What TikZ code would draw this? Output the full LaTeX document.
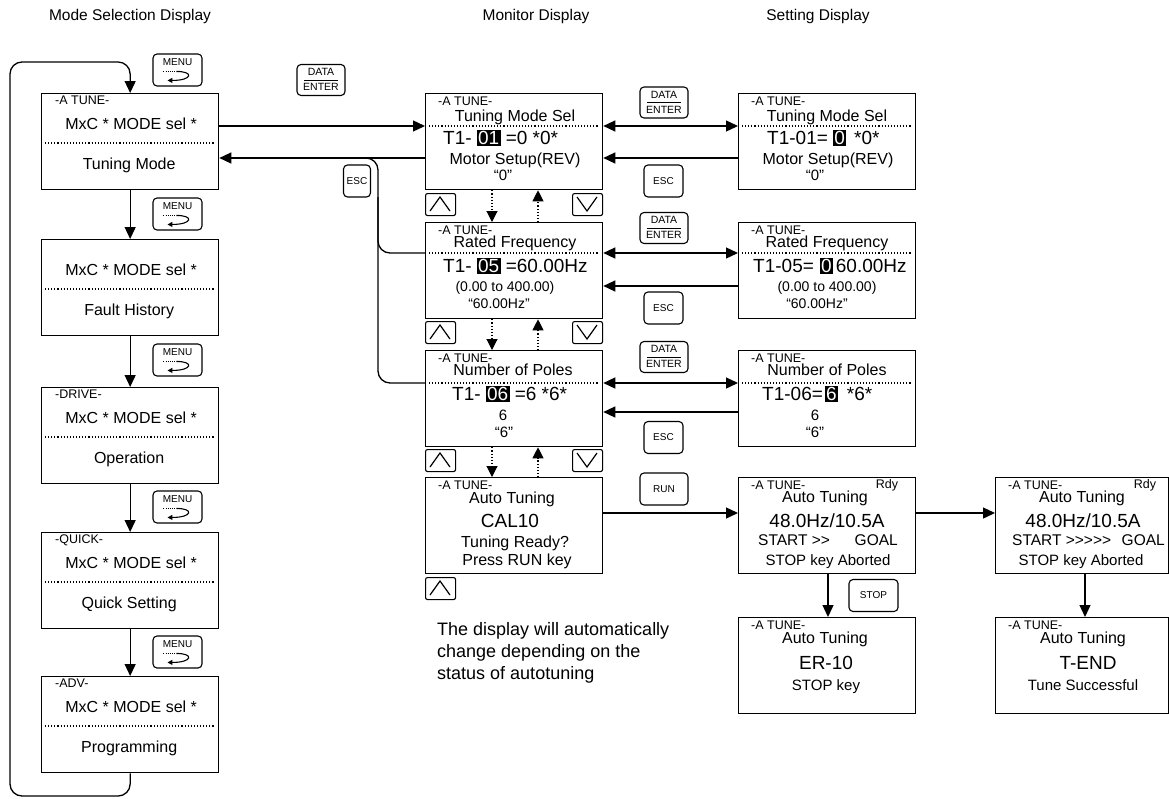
\documentclass[tikz,border=0pt]{standalone}
\usepackage{fontspec}
\setmainfont{Liberation Sans}
\usetikzlibrary{arrows.meta,calc}
\newcommand\fs[1]{\fontsize{#1}{#1}\selectfont}
\newcommand\hl[1]{{\setlength{\fboxsep}{1.2pt}\colorbox{black}{\textcolor{white}{#1}}}}
\tikzset{
 box/.style={draw, line width=1.3pt, minimum width=177pt, minimum height=96pt, anchor=north west, inner sep=0pt},
 key/.style={draw, line width=1.1pt, rounded corners=4pt, inner sep=0pt},
 txt/.style={inner sep=0pt, anchor=mid},
 sep/.style={line width=1.1pt, dash pattern=on 1.1pt off 2pt},
 arr/.style={line width=1.3pt, -{Triangle[length=12pt,width=11pt]}},
 darr/.style={line width=1.3pt, {Triangle[length=12pt,width=11pt]}-{Triangle[length=12pt,width=11pt]}},
 dotarr/.style={line width=1.1pt, dash pattern=on 1.1pt off 2pt, -{Triangle[length=11pt,width=11pt]}},
 ln/.style={line width=1.3pt},
}
\newcommand\modebox[3]{%
 \node[box] (#1) at (41,#2) {};
 \draw[sep] ($(#1.north west)+(4,50)$) -- ($(#1.north east)+(-4,50)$);
 \node[txt,font={\fs{16}}] (#1b) at ($(#1.north)+(1,34)$) {MxC * MODE sel *};
 \node[txt,font={\fs{16}}] (#1c) at ($(#1.north)+(-1,74)$) {#3};
}
\newcommand\dispbox[4]{% name, x, top, width
 \node[box, minimum width=#4pt] (#1) at (#2,#3) {};
 \node[txt,font={\fs{12.5}},anchor=mid west] (#1a) at ($(#1.north west)+(13,10)$) {-A TUNE-};
}
\newcommand\menukey[3]{%
 \node[key, minimum width=49pt, minimum height=32pt] (#1) at (#2,#3) {};
 \node[txt,font={\fs{10}}] (#1t) at ($(#1.north)+(0,9.5)$) {MENU};
 \draw[line width=.9pt, dash pattern=on .9pt off 1.3pt] ($(#1.north west)+(11,18)$) -- ($(#1.north west)+(24,18)$);
 \draw[line width=1.1pt, -{Triangle[length=5pt,width=5pt]}] ($(#1.north west)+(24,18)$) .. controls ($(#1.north west)+(42,18)$) and ($(#1.north west)+(40,27)$) .. ($(#1.north west)+(15,27)$);
}
\newcommand\dekey[3]{%
 \node[key, minimum width=48pt, minimum height=31pt] (#1) at (#2,#3) {};
 \node[txt,font={\fs{10.5}}] (#1a) at ($(#1.center)+(0,-7)$) {DATA};
 \draw[line width=.9pt] ($(#1.center)+(-17,0)$) -- ($(#1.center)+(17,0)$);
 \node[txt,font={\fs{10.5}}] (#1b) at ($(#1.center)+(0,8)$) {ENTER};
}
\newcommand\tkey[5]{%
 \node[key, minimum width=#4pt, minimum height=32pt, font={\fs{10}}] (#1) at (#2,#3) {#5};
}
\newcommand\upkey[3]{%
 \node[key, rounded corners=2pt, minimum width=30pt, minimum height=22pt, anchor=north west] (#1) at (#2,#3) {};
 \draw[line width=1.2pt] ($(#1.north west)+(5,18)$) -- ($(#1.north west)+(15,4)$) -- ($(#1.north west)+(25,18)$);
}
\newcommand\downkey[3]{%
 \node[key, rounded corners=2pt, minimum width=30pt, minimum height=22pt, anchor=north west] (#1) at (#2,#3) {};
 \draw[line width=1.2pt] ($(#1.north west)+(5,4)$) -- ($(#1.north west)+(15,18)$) -- ($(#1.north west)+(25,4)$);
}
\begin{document}
\begin{tikzpicture}[x=1pt,y=-1pt]
\useasboundingbox (0,0) rectangle (1169,798);
% headers
\node[txt,font={\fs{15.5}}] (h1) at (130,18) {Mode Selection Display};
\node[txt,font={\fs{15.5}}] (h2) at (536,18) {Monitor Display};
\node[txt,font={\fs{15.5}}] (h3) at (818,18) {Setting Display};

% mode selection column
\modebox{l1}{93}{Tuning Mode}
\modebox{l2}{239}{Fault History}
\modebox{l3}{387}{Operation}
\modebox{l4}{532}{Quick Setting}
\modebox{l5}{676}{Programming}
\node[txt,font={\fs{12.5}},anchor=mid west] (l1a) at ($(l1.north west)+(14,9)$) {-A TUNE-};
\node[txt,font={\fs{12.5}},anchor=mid west] (l3a) at ($(l3.north west)+(14,9)$) {-DRIVE-};
\node[txt,font={\fs{12.5}},anchor=mid west] (l4a) at ($(l4.north west)+(14,9)$) {-QUICK-};
\node[txt,font={\fs{12.5}},anchor=mid west] (l5a) at ($(l5.north west)+(14,9)$) {-ADV-};

\menukey{k0}{177.5}{70}
\menukey{k1}{177.5}{214}
\menukey{k2}{177.5}{360}
\menukey{k3}{177.5}{507}
\menukey{k4}{177.5}{652}

\draw[arr] (l1.south) -- (l2.north);
\draw[arr] (l2.south) -- (l3.north);
\draw[arr] (l3.south) -- (l4.north);
\draw[arr] (l4.south) -- (l5.north);
\coordinate (lb) at (10,796);
\coordinate (lt) at (10,62);
\draw[arr, rounded corners=12pt] (l5.south) |- (lb) -- (lt) -| (l1.north);

% monitor column
\dispbox{m1}{425}{93}{177}
\dispbox{m2}{425}{222}{177}
\dispbox{m3}{425}{350}{177}
\dispbox{m4}{425}{477}{177}
\draw[sep] ($(m1.north west)+(4,33)$) -- ($(m1.north east)+(-4,33)$);
\draw[sep] ($(m2.north west)+(4,31)$) -- ($(m2.north east)+(-4,31)$);
\draw[sep] ($(m3.north west)+(4,33)$) -- ($(m3.north east)+(-4,33)$);

\node[txt,font={\fs{16}}] (m1t) at (515,119) {Tuning Mode Sel};
\node[txt,font={\fs{19}},anchor=mid west] (m1v) at (443,142) {T1- \hl{01} =0 *0*};
\node[txt,font={\fs{16}}] (m1d) at (515,162) {Motor Setup(REV)};
\node[txt,font={\fs{15}}] (m1q) at (503,178) {“0”};

\node[txt,font={\fs{16}}] (m2t) at (515,245) {Rated Frequency};
\node[txt,font={\fs{19}},anchor=mid west] (m2v) at (443,270) {T1- \hl{05} =60.00Hz};
\node[txt,font={\fs{14}}] (m2d) at (505,289) {(0.00 to 400.00)};
\node[txt,font={\fs{14}}] (m2q) at (499,306) {“60.00Hz”};

\node[txt,font={\fs{16}}] (m3t) at (513,373) {Number of Poles};
\node[txt,font={\fs{19}},anchor=mid west] (m3v) at (452,398) {T1- \hl{06} =6 *6*};
\node[txt,font={\fs{15}}] (m3d) at (503,418) {6};
\node[txt,font={\fs{15}}] (m3q) at (504,435) {“6”};

\node[txt,font={\fs{16}}] (m4t) at (512,501) {Auto Tuning};
\node[txt,font={\fs{19}}] (m4v) at (510,525) {CAL10};
\node[txt,font={\fs{16}}] (m4d) at (515,545) {Tuning Ready?};
\node[txt,font={\fs{16}}] (m4q) at (517,563) {Press RUN key};

\upkey{u1}{425}{193} \downkey{w1}{572}{193}
\upkey{u2}{425}{321} \downkey{w2}{572}{321}
\upkey{u3}{425}{449} \downkey{w3}{572}{449}
\upkey{u4}{425}{577}

\draw[dotarr] ($(m1.south west)+(67,0)$) -- ($(m2.north west)+(67,0)$);
\draw[dotarr] ($(m2.north west)+(113,0)$) -- ($(m1.south west)+(113,0)$);
\draw[dotarr] ($(m2.south west)+(67,0)$) -- ($(m3.north west)+(67,0)$);
\draw[dotarr] ($(m3.north west)+(113,0)$) -- ($(m2.south west)+(113,0)$);
\draw[dotarr] ($(m3.south west)+(67,0)$) -- ($(m4.north west)+(67,0)$);
\draw[dotarr] ($(m4.north west)+(113,0)$) -- ($(m3.south west)+(113,0)$);

\node[txt,font={\fs{18}},anchor=mid west] (n1) at (437,633) {The display will automatically};
\node[txt,font={\fs{18}},anchor=mid west] (n2) at (437,655) {change depending on the};
\node[txt,font={\fs{18}},anchor=mid west] (n3) at (437,677) {status of autotuning};

% mode <-> monitor
\dekey{d0}{321}{80}
\tkey{c0}{357}{181}{27}{ESC}
\draw[arr] ($(l1.north east)+(0,33)$) -- ($(m1.north west)+(0,33)$);
\draw[arr] ($(m1.north west)+(0,65)$) -- ($(l1.north east)+(0,65)$);
\draw[ln, rounded corners=12pt] ($(m3.north west)+(0,33)$) -| ($(m1.north west)+(-47,65)$) -- ($(m1.north west)+(-90,65)$);
\draw[ln, rounded corners=12pt] ($(m2.north west)+(0,31)$) -| ($(m2.north west)+(-47,-25)$);

% setting column
\dispbox{s1}{738}{93}{177}
\dispbox{s2}{738}{222}{177}
\dispbox{s3}{738}{350}{177}
\draw[sep] ($(s1.north west)+(4,33)$) -- ($(s1.north east)+(-4,33)$);
\draw[sep] ($(s2.north west)+(4,31)$) -- ($(s2.north east)+(-4,31)$);
\draw[sep] ($(s3.north west)+(4,33)$) -- ($(s3.north east)+(-4,33)$);

\node[txt,font={\fs{16}}] (s1t) at (827,119) {Tuning Mode Sel};
\node[txt,font={\fs{19}},anchor=mid west] (s1v) at (767,142) {T1-01= \hl{0}\hspace{8pt}*0*};
\node[txt,font={\fs{16}}] (s1d) at (828,162) {Motor Setup(REV)};
\node[txt,font={\fs{15}}] (s1q) at (815,178) {“0”};

\node[txt,font={\fs{16}}] (s2t) at (827,245) {Rated Frequency};
\node[txt,font={\fs{19}},anchor=mid west] (s2v) at (753,270) {T1-05=\hspace{6pt}\hl{0}\hspace{3pt}60.00Hz};
\node[txt,font={\fs{14}}] (s2d) at (827,289) {(0.00 to 400.00)};
\node[txt,font={\fs{14}}] (s2q) at (817,306) {“60.00Hz”};

\node[txt,font={\fs{16}}] (s3t) at (827,373) {Number of Poles};
\node[txt,font={\fs{19}},anchor=mid west] (s3v) at (762,398) {T1-06=\hspace{2pt}\hl{6}\hspace{9pt}*6*};
\node[txt,font={\fs{15}}] (s3d) at (815,418) {6};
\node[txt,font={\fs{15}}] (s3q) at (815,435) {“6”};

\dekey{d1}{664}{102.5}
\dekey{d2}{664}{228}
\dekey{d3}{664}{357}
\tkey{c1}{663.5}{181}{39}{ESC}
\tkey{c2}{663.5}{308}{39}{ESC}
\tkey{c3}{663.5}{437.5}{39}{ESC}
\tkey{r1}{664}{489}{48}{RUN}

\draw[darr] ($(m1.north east)+(0,33)$) -- ($(s1.north west)+(0,33)$);
\draw[arr] ($(s1.north west)+(0,65)$) -- ($(m1.north east)+(0,65)$);
\draw[darr] ($(m2.north east)+(0,31)$) -- ($(s2.north west)+(0,31)$);
\draw[arr] ($(s2.north west)+(0,64)$) -- ($(m2.north east)+(0,64)$);
\draw[darr] ($(m3.north east)+(0,33)$) -- ($(s3.north west)+(0,33)$);
\draw[arr] ($(s3.north west)+(0,62)$) -- ($(m3.north east)+(0,62)$);

% auto tuning boxes
\dispbox{a1}{738}{477}{177}
\dispbox{a2}{995}{477}{173}
\dispbox{e1}{738}{617}{177}
\dispbox{e2}{995}{617}{173}
\node[txt,font={\fs{12.5}}] (a1r) at (887,486) {Rdy};
\node[txt,font={\fs{12.5}}] (a2r) at (1145,486) {Rdy};

\node[txt,font={\fs{16}}] (a1t) at (825,500) {Auto Tuning};
\node[txt,font={\fs{19}}] (a1v) at (827,525) {48.0Hz/10.5A};
\node[txt,font={\fs{15.5}},anchor=mid west] (a1s) at (758,543) {START >{}>};
\node[txt,font={\fs{15.5}},anchor=mid east] (a1g) at (898,543) {GOAL};
\node[txt,font={\fs{15}}] (a1k) at (828,563) {STOP key Aborted};

\node[txt,font={\fs{16}}] (a2t) at (1082,500) {Auto Tuning};
\node[txt,font={\fs{19}}] (a2v) at (1083,525) {48.0Hz/10.5A};
\node[txt,font={\fs{15.5}},anchor=mid west] (a2s) at (1012,543) {START >{}>{}>{}>{}>};
\node[txt,font={\fs{15.5}},anchor=mid east] (a2g) at (1165,543) {GOAL};
\node[txt,font={\fs{15}}] (a2k) at (1081,563) {STOP key Aborted};

\node[txt,font={\fs{16}}] (e1t) at (825,641) {Auto Tuning};
\node[txt,font={\fs{19}}] (e1v) at (826,667) {ER-10};
\node[txt,font={\fs{15}}] (e1k) at (826,688) {STOP key};

\node[txt,font={\fs{16}}] (e2t) at (1083,641) {Auto Tuning};
\node[txt,font={\fs{19}}] (e2v) at (1088,667) {T-END};
\node[txt,font={\fs{15}}] (e2k) at (1083,688) {Tune Successful};

\tkey{st}{873.5}{595.5}{49}{STOP}

\draw[arr] ($(m4.north east)+(0,36)$) -- ($(a1.north west)+(0,36)$);
\draw[arr] ($(a1.north east)+(0,36)$) -- ($(a2.north west)+(0,36)$);
\draw[arr] ($(a1.south west)+(90,0)$) -- ($(e1.north west)+(90,0)$);
\draw[arr] ($(a2.south west)+(90,0)$) -- ($(e2.north west)+(90,0)$);
\end{tikzpicture}
\end{document}
